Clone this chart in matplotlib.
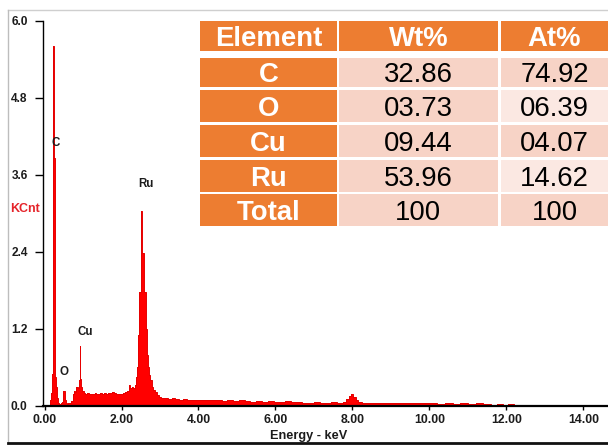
import matplotlib
matplotlib.use("Agg")
import matplotlib.pyplot as plt
from matplotlib.patches import Rectangle
from matplotlib.lines import Line2D

plt.rcParams["font.family"] = ["Liberation Sans", "DejaVu Sans"]

# EDS spectrum: channel start energy (keV) and intensity (kilo-counts)
energy_kev = [
    0.10, 0.13, 0.15, 0.17, 0.19, 0.21, 0.23, 0.25, 0.28, 0.30, 0.32, 0.35,
    0.38, 0.42, 0.46, 0.49, 0.52, 0.55, 0.58, 0.62, 0.66, 0.70, 0.74, 0.77,
    0.80, 0.83, 0.86, 0.89, 0.91, 0.93, 0.95, 0.98, 1.02, 1.06, 1.10, 1.15,
    1.20, 1.25, 1.30, 1.35, 1.40, 1.45, 1.50, 1.55, 1.60, 1.65, 1.70, 1.75,
    1.80, 1.85, 1.90, 1.95, 2.00, 2.05, 2.10, 2.15, 2.19, 2.23, 2.27, 2.31,
    2.35, 2.38, 2.41, 2.44, 2.46, 2.50, 2.52, 2.58, 2.63, 2.66, 2.69, 2.72,
    2.75, 2.78, 2.82, 2.87, 2.92, 2.97, 3.02, 3.10, 3.20, 3.30, 3.40, 3.50,
    3.60, 3.70, 3.80, 3.90, 4.00, 4.15, 4.30, 4.45, 4.60, 4.75, 4.90, 5.05,
    5.20, 5.35, 5.50, 5.65, 5.80, 5.95, 6.10, 6.25, 6.40, 6.55, 6.70, 6.85,
    7.00, 7.15, 7.30, 7.45, 7.60, 7.75, 7.84, 7.90, 7.96, 8.02, 8.08, 8.14,
    8.25, 8.40, 8.60, 8.80, 9.00, 9.20, 9.40, 9.60, 9.80, 10.00, 10.20, 10.40,
    10.60, 10.80, 11.00, 11.20, 11.40, 11.60, 11.75, 11.90, 12.05, 12.20, 12.30,
]
counts_k = [
    0.00, 0.04, 0.10, 0.20, 0.50, 0.55, 5.60, 3.86, 0.45, 0.30, 0.12, 0.05,
    0.03, 0.04, 0.06, 0.24, 0.10, 0.04, 0.03, 0.05, 0.04, 0.08, 0.18, 0.24,
    0.22, 0.30, 0.28, 0.40, 0.93, 0.42, 0.30, 0.24, 0.20, 0.18, 0.20, 0.18,
    0.19, 0.18, 0.20, 0.19, 0.18, 0.20, 0.19, 0.20, 0.18, 0.21, 0.20, 0.22,
    0.21, 0.18, 0.19, 0.18, 0.19, 0.20, 0.22, 0.24, 0.32, 0.28, 0.30, 0.28,
    0.33, 0.45, 0.60, 1.10, 1.78, 3.04, 2.38, 1.78, 1.20, 0.80, 0.60, 0.48,
    0.40, 0.30, 0.25, 0.22, 0.17, 0.14, 0.13, 0.12, 0.11, 0.12, 0.11, 0.10,
    0.11, 0.10, 0.10, 0.09, 0.10, 0.09, 0.10, 0.09, 0.08, 0.09, 0.08, 0.09,
    0.08, 0.07, 0.08, 0.07, 0.08, 0.07, 0.07, 0.08, 0.06, 0.07, 0.05, 0.05,
    0.06, 0.05, 0.05, 0.06, 0.05, 0.07, 0.11, 0.15, 0.18, 0.14, 0.09, 0.06,
    0.05, 0.04, 0.05, 0.04, 0.04, 0.05, 0.04, 0.04, 0.04, 0.04, 0.03, 0.04,
    0.03, 0.04, 0.03, 0.04, 0.03, 0.02, 0.03, 0.02, 0.03, 0.02, 0.00,
]

peak_names = ["C", "O", "Cu", "Ru"]
peak_label_x = [0.30, 0.505, 1.05, 2.64]
peak_label_y = [4.10, 0.53, 1.16, 3.45]

y_ticks = [0.0, 1.2, 2.4, 3.6, 4.8, 6.0]
x_ticks = [0, 2, 4, 6, 8, 10, 12, 14]

# quantification table
table_header = ["Element", "Wt%", "At%"]
elements = ["C", "O", "Cu", "Ru", "Total"]
wt_pct = ["32.86", "03.73", "09.44", "53.96", "100"]
at_pct = ["74.92", "06.39", "04.07", "14.62", "100"]

ORANGE = "#ed7d31"
PEACH = "#f7d3c6"
PEACH_LIGHT = "#fbe8e2"
INK = "#1c1c1c"

fig = plt.figure(figsize=(6.08, 4.45), dpi=100)

# spectrum panel
ax = fig.add_axes([43 / 608, 39 / 445, 565 / 608, 385.3 / 445])
ax.fill_between(energy_kev, counts_k, step="post", color="#ff0000", lw=0, zorder=1)
ax.step(energy_kev, counts_k, where="post", color="#e60000", lw=0.7, zorder=1)
ax.set_xlim(-0.04, 14.64)
ax.set_ylim(0, 6.0)
for sp in ("top", "right"):
    ax.spines[sp].set_visible(False)
ax.spines["left"].set_linewidth(1.0)
ax.spines["bottom"].set_linewidth(1.6)

ax.set_yticks(y_ticks)
ax.set_yticklabels([f"{v:.1f}" for v in y_ticks], fontweight="bold", color=INK)
ax.set_xticks(x_ticks)
ax.set_xticklabels([f"{v:.2f}" for v in x_ticks], fontweight="bold", color=INK)
ax.tick_params(axis="y", length=6, width=1, pad=5, labelsize=8.6)
ax.tick_params(axis="x", length=3, width=1, pad=3, labelsize=8.8)
ax.set_xlabel("Energy - keV", fontsize=9.2, fontweight="bold", color=INK)
ax.xaxis.set_label_coords(0.471, -0.063)

for name, px, py in zip(peak_names, peak_label_x, peak_label_y):
    ax.text(px, py, name, ha="center", va="center", fontsize=8.3,
            fontweight="bold", color=INK)

fig.text(10 / 608, 1 - 209 / 445, "KCnt", ha="left", va="center",
         fontsize=9, fontweight="bold", color="#e5242a")

# outer frame
fig.add_artist(Line2D([8 / 608, 1], [1 - 10 / 445] * 2, color="#cfcfcf", lw=1))
fig.add_artist(Line2D([8 / 608] * 2, [1 - 443 / 445, 1 - 10 / 445], color="#bdbdbd", lw=1))
fig.add_artist(Line2D([8 / 608, 1], [1 - 443 / 445] * 2, color="#111111", lw=2))

# table panel, laid out in pixel units with y pointing down
tx0, ty0, tw, th = 200, 20.7, 408, 205.3
tax = fig.add_axes([tx0 / 608, 1 - (ty0 + th) / 445, tw / 608, th / 445])
tax.set_xlim(0, tw)
tax.set_ylim(th, 0)
tax.axis("off")

col_edges = [(0, 136.7), (138.7, 298), (301, 408)]
row_edges = [(0, 30), (37, 66.6), (69.3, 101), (104.3, 136), (139.3, 171), (173.6, 205.3)]
light_cells = {(2, 2), (4, 2)}

rows = [table_header] + [[e, w, a] for e, w, a in zip(elements, wt_pct, at_pct)]
for r, (y0, y1) in enumerate(row_edges):
    for c, (x0, x1) in enumerate(col_edges):
        if r == 0 or c == 0:
            face, tcol, weight = ORANGE, "white", "bold"
        else:
            face = PEACH_LIGHT if (r, c) in light_cells else PEACH
            tcol, weight = "black", "normal"
        tax.add_patch(Rectangle((x0, y0), x1 - x0, y1 - y0, facecolor=face,
                                edgecolor="none"))
        tax.text((x0 + x1) / 2, (y0 + y1) / 2, rows[r][c], ha="center",
                 va="center_baseline", fontsize=19.8, fontweight=weight, color=tcol)

fig.savefig("out.png", dpi=100)
